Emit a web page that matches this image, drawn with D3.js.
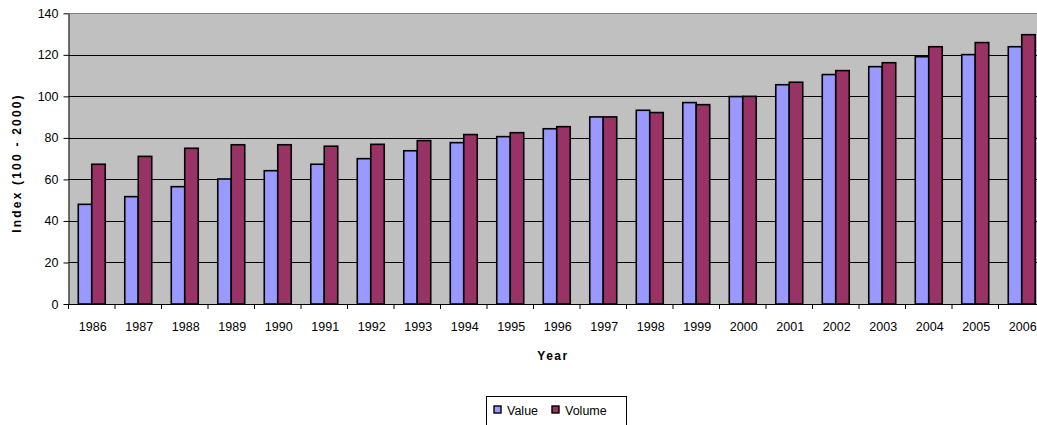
<!DOCTYPE html>
<html>
<head>
<meta charset="utf-8">
<script src="https://cdn.jsdelivr.net/npm/d3@7"></script>
<style>
  html, body { margin: 0; padding: 0; background: #fff; }
  svg { display: block; }
  text { font-family: "Liberation Sans", Arial, sans-serif; }
</style>
</head>
<body>
<svg id="chart" width="1037" height="425"></svg>
<script>
// Index values (100 = 2000) by year
const years = ["1986","1987","1988","1989","1990","1991","1992","1993","1994","1995","1996",
               "1997","1998","1999","2000","2001","2002","2003","2004","2005","2006"];
const valueSeries  = [48.0, 51.7, 56.5, 60.2, 64.2, 67.3, 70.0, 73.8, 77.7, 80.6, 84.4,
                      90.1, 93.3, 97.0, 99.9, 105.6, 110.5, 114.3, 119.1, 120.1, 123.9];
const volumeSeries = [67.3, 71.1, 75.0, 76.7, 76.7, 76.0, 76.9, 78.7, 81.6, 82.5, 85.4,
                      90.1, 92.2, 96.0, 100.0, 106.8, 112.4, 116.2, 123.9, 125.9, 129.7];
const seriesNames = ["Value", "Volume"];
const seriesColors = ["#9999FF", "#993366"];
const yTicks = [0, 20, 40, 60, 80, 100, 120, 140];

const svg = d3.select("#chart");
const plot = { left: 68.5, top: 13.3, right: 1045, bottom: 304 };

const x0 = d3.scaleBand().domain(years).range([plot.left, plot.right]).padding(0);
const groupInset = 0.21; // fraction of the band left empty on each side
const x1 = d3.scaleBand().domain(seriesNames)
  .range([x0.bandwidth() * groupInset, x0.bandwidth() * (1 - groupInset)]).padding(0);
const y = d3.scaleLinear().domain([0, 140]).range([plot.bottom, plot.top]);

// plot background
svg.append("rect")
  .attr("x", plot.left).attr("y", plot.top)
  .attr("width", plot.right - plot.left).attr("height", plot.bottom - plot.top)
  .attr("fill", "#C0C0C0");

// horizontal gridlines
svg.append("g").selectAll("line").data(yTicks.filter(d => d > 0 && d < 140)).join("line")
  .attr("x1", plot.left).attr("x2", plot.right)
  .attr("y1", d => Math.round(y(d)) + 0.5).attr("y2", d => Math.round(y(d)) + 0.5)
  .attr("stroke", "#000").attr("stroke-width", 1);

// top border
svg.append("line")
  .attr("x1", plot.left).attr("x2", plot.right)
  .attr("y1", Math.round(plot.top) + 0.5).attr("y2", Math.round(plot.top) + 0.5)
  .attr("stroke", "#808080").attr("stroke-width", 1.2);

// bars
const data = years.map((yr, i) => ({ year: yr, vals: [valueSeries[i], volumeSeries[i]] }));
const groups = svg.append("g").selectAll("g").data(data).join("g")
  .attr("transform", d => `translate(${x0(d.year)},0)`);
groups.selectAll("rect")
  .data(d => d.vals.map((v, k) => ({ key: seriesNames[k], v, k })))
  .join("rect")
  .attr("x", d => x1(d.key))
  .attr("y", d => y(d.v))
  .attr("width", x1.bandwidth())
  .attr("height", d => y(0) - y(d.v))
  .attr("fill", d => seriesColors[d.k])
  .attr("stroke", "#000").attr("stroke-width", 1.6);

// y axis
const yAxis = d3.axisLeft(y).tickValues(yTicks).tickSize(5).tickPadding(5).tickSizeOuter(0);
const gy = svg.append("g").attr("transform", `translate(${plot.left},0)`).call(yAxis);
gy.select(".domain").attr("stroke", "#000");
gy.selectAll(".tick line").attr("stroke", "#000");
gy.selectAll(".tick text").attr("font-size", 12.5).attr("fill", "#000")
  .attr("font-family", "Liberation Sans, Arial, sans-serif");

// x axis: ticks at category boundaries
const gx = svg.append("g").attr("transform", `translate(0,${plot.bottom})`);
gx.append("line").attr("x1", plot.left).attr("x2", plot.right)
  .attr("y1", 0.5).attr("y2", 0.5).attr("stroke", "#000");
const boundaries = years.map(yr => x0(yr)).concat([x0(years[years.length - 1]) + x0.bandwidth()]);
gx.selectAll("line.tk").data(boundaries).join("line").attr("class", "tk")
  .attr("x1", d => d).attr("x2", d => d).attr("y1", 0).attr("y2", 5)
  .attr("stroke", "#000");
gx.selectAll("text").data(years).join("text")
  .attr("x", d => x0(d) + x0.bandwidth() / 2 + 1)
  .attr("y", 27)
  .attr("text-anchor", "middle")
  .attr("font-size", 12.5).attr("fill", "#000")
  .text(d => d);

// axis titles
svg.append("text")
  .attr("transform", "translate(21,163) rotate(-90)")
  .attr("text-anchor", "middle")
  .attr("font-size", 12).attr("font-weight", "bold")
  .attr("letter-spacing", 2.2)
  .text("Index (100 - 2000)");
svg.append("text")
  .attr("x", 553).attr("y", 360)
  .attr("text-anchor", "middle")
  .attr("font-size", 12).attr("font-weight", "bold")
  .attr("letter-spacing", 1.5)
  .text("Year");

// legend
const lg = svg.append("g");
lg.append("rect").attr("x", 486.5).attr("y", 396.5).attr("width", 140).attr("height", 30)
  .attr("fill", "#fff").attr("stroke", "#000").attr("stroke-width", 1);
const legendX = [494, 552];
seriesNames.forEach((name, k) => {
  lg.append("rect").attr("x", legendX[k]).attr("y", 406).attr("width", 7).attr("height", 7)
    .attr("fill", seriesColors[k]).attr("stroke", "#000").attr("stroke-width", 1.4);
  lg.append("text").attr("x", legendX[k] + 13).attr("y", 414.5)
    .attr("font-size", 12.5).attr("fill", "#000").text(name);
});
</script>
</body>
</html>
